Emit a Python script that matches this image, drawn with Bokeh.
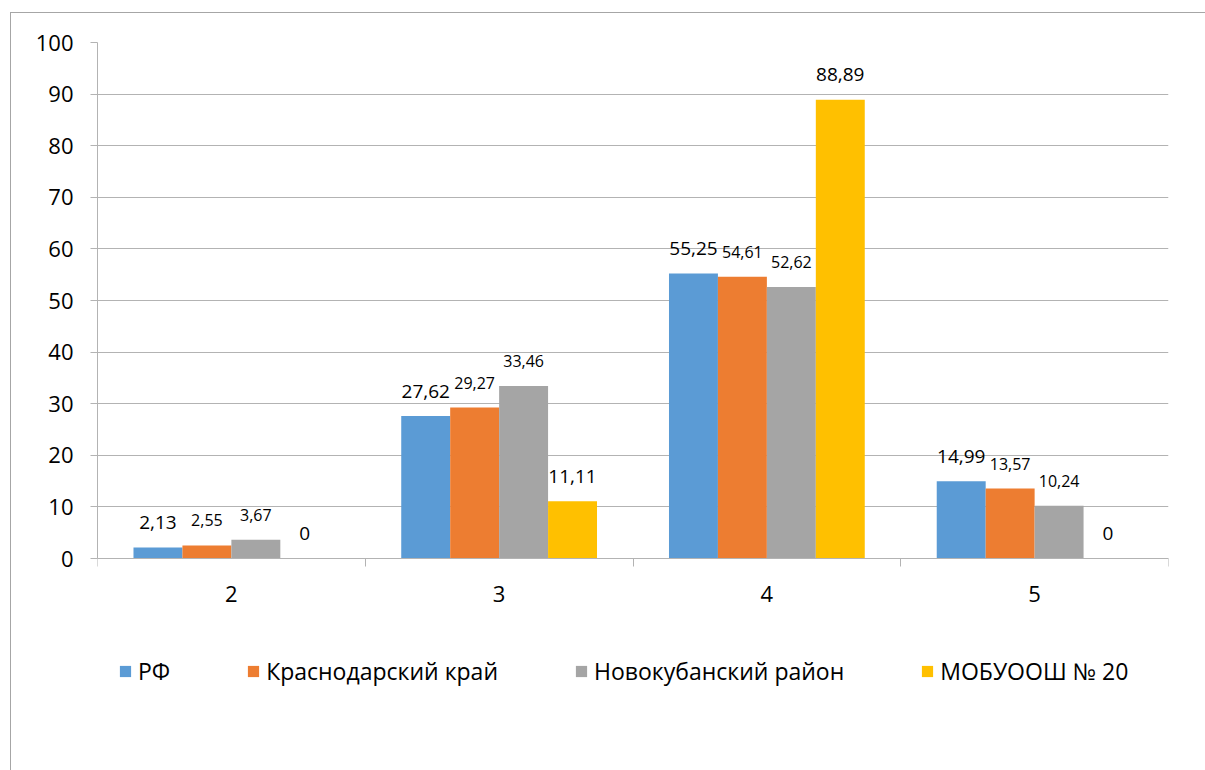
from bokeh.plotting import figure
from bokeh.models import FixedTicker, Legend, LegendItem, Range1d, ColumnDataSource
from bokeh.core.properties import value
from bokeh.embed import file_html
from bokeh.resources import INLINE

# ---- data ----
categories = ["2", "3", "4", "5"]
series_names = ["РФ", "Краснодарский край", "Новокубанский район", "МОБУООШ № 20"]
rf = [2.13, 27.62, 55.25, 14.99]
krai = [2.55, 29.27, 54.61, 13.57]
raion = [3.67, 33.46, 52.62, 10.24]
school = [0, 11.11, 88.89, 0]
y_ticks = [0, 10, 20, 30, 40, 50, 60, 70, 80, 90, 100]

# ---- styles ----
colors = ["#5B9BD5", "#ED7D31", "#A5A5A5", "#FFC000"]
label_sizes = ["19px", "16px", "16px", "19px"]
FONT = "Open Sans"
GRID = "#b3b3b3"
BAR_W = 0.1828

series = [rf, krai, raion, school]


def fmt(v):
    if v == 0:
        return "0"
    return f"{v:.2f}".replace(".", ",")


# frame extends below the zero line to host the legend; axis sits at y=0
p = figure(
    frame_width=1071, frame_height=658,
    min_border_left=86, min_border_top=29, min_border_right=29, min_border_bottom=58,
    x_range=Range1d(0, len(categories)), y_range=Range1d(-27.5, 100),
    output_backend="svg", toolbar_location=None,
)
p.styles = {"margin-left": "10px", "margin-top": "12px",
            "padding-right": "8px", "padding-bottom": "12px",
            "border-left": "1px solid #a6a6a6", "border-top": "1px solid #a6a6a6"}
p.outline_line_color = None
p.background_fill_color = "white"
p.border_fill_color = "white"

renderers = []
for k, (vals, name) in enumerate(zip(series, series_names)):
    xs = [i + 0.5 + (k - 1.5) * BAR_W for i in range(len(categories))]
    src = ColumnDataSource(dict(x=xs, top=vals, lab=[fmt(v) for v in vals]))
    r = p.vbar(x="x", top="top", bottom=0, width=BAR_W, source=src,
               fill_color=colors[k], line_color=None)
    renderers.append(r)
    p.text(x="x", y="top", text="lab", source=src, text_align="center",
           text_baseline="middle", y_offset=-25, text_color="#000000",
           text_font=value(FONT), text_font_size=label_sizes[k])

# grid
p.xgrid.visible = False
p.ygrid.ticker = FixedTicker(ticks=y_ticks)
p.ygrid.grid_line_color = GRID
p.ygrid.grid_line_width = 1

# y axis
ya = p.yaxis[0]
ya.ticker = FixedTicker(ticks=y_ticks)
ya.bounds = (0, 100)
ya.major_tick_out = 7
ya.major_tick_in = 0
ya.minor_tick_line_color = None
ya.major_tick_line_color = GRID
ya.axis_line_color = GRID
ya.major_label_standoff = 17
ya.major_label_text_font = FONT
ya.major_label_text_font_size = "22px"
ya.major_label_text_color = "#000000"

# x axis
xa = p.xaxis[0]
xa.fixed_location = 0
centers = [i + 0.5 for i in range(len(categories))]
xa.ticker = FixedTicker(ticks=centers, minor_ticks=list(range(len(categories) + 1)))
xa.major_label_overrides = {c: lab for c, lab in zip(centers, categories)}
xa.major_tick_out = 0
xa.major_tick_in = 0
xa.major_tick_line_color = None
xa.minor_tick_out = 8
xa.minor_tick_in = 0
xa.minor_tick_line_color = GRID
xa.axis_line_color = GRID
xa.major_label_standoff = 19
xa.major_label_text_font = FONT
xa.major_label_text_font_size = "22px"
xa.major_label_text_color = "#000000"

legend = Legend(
    items=[LegendItem(label=n, renderers=[r]) for n, r in zip(series_names, renderers)],
    orientation="horizontal", location=(21, 13), spacing=76, label_standoff=6,
    glyph_width=14, glyph_height=14, padding=0, margin=0,
    border_line_color=None, background_fill_alpha=0,
    label_text_font=FONT, label_text_font_size="23px", label_text_color="#000000",
)
p.add_layout(legend, "center")

open("out.html", "w").write(file_html(p, INLINE))
